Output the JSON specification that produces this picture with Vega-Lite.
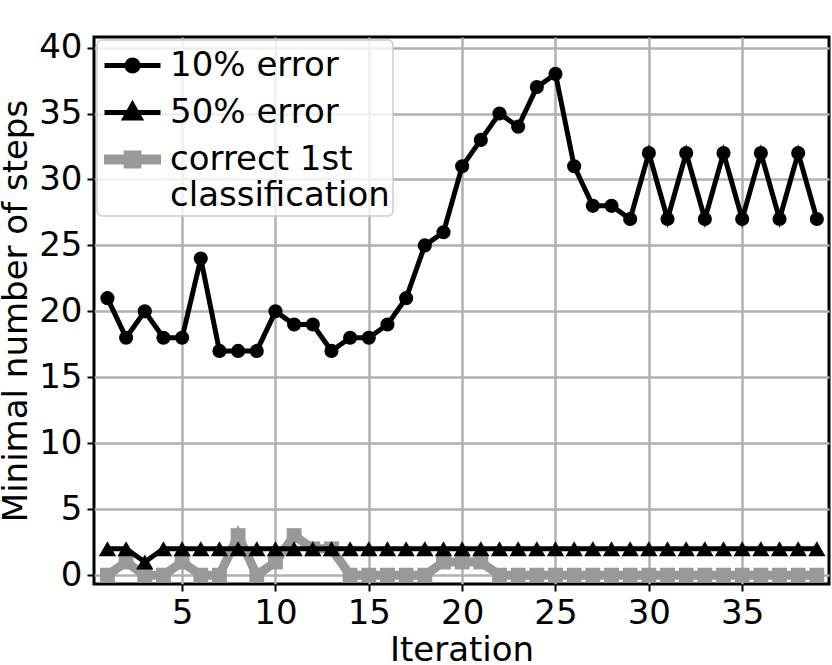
{
  "$schema": "https://vega.github.io/schema/vega-lite/v6.json",
  "width": 735,
  "height": 547,
  "autosize": {"type": "none"},
  "padding": {"left": 94, "top": 37, "right": 3, "bottom": 81},
  "config": {
    "font": "DejaVu Sans",
    "view": {"stroke": "black", "strokeWidth": 3},
    "axis": {
      "domain": false,
      "grid": true,
      "gridColor": "#b0b0b0",
      "gridWidth": 2.5,
      "tickColor": "black",
      "tickWidth": 2,
      "tickSize": 7,
      "labelFont": "DejaVu Sans",
      "labelFontSize": 34,
      "labelColor": "black",
      "titleFont": "DejaVu Sans",
      "titleFontSize": 34,
      "titleFontWeight": "normal",
      "titleColor": "black",
      "labelPadding": 5
    },
    "legend": {
      "orient": "top-left",
      "offset": 3,
      "symbolSize": 1600,
      "symbolStrokeWidth": 5,
      "symbolOpacity": 1,
      "symbolOffset": 10,
      "labelFont": "DejaVu Sans",
      "labelFontSize": 34,
      "labelColor": "black",
      "labelOffset": 15,
      "labelLimit": 500,
      "rowPadding": 7,
      "padding": 3,
      "fillColor": "rgba(255,255,255,0.8)",
      "strokeColor": "#cccccc",
      "strokeWidth": 1.5,
      "cornerRadius": 5
    }
  },
  "data": {
    "values": [
      {"it": 1, "e10": 21, "e50": 2, "c": 0},
      {"it": 2, "e10": 18, "e50": 2, "c": 1},
      {"it": 3, "e10": 20, "e50": 1, "c": 0},
      {"it": 4, "e10": 18, "e50": 2, "c": 0},
      {"it": 5, "e10": 18, "e50": 2, "c": 1},
      {"it": 6, "e10": 24, "e50": 2, "c": 0},
      {"it": 7, "e10": 17, "e50": 2, "c": 0},
      {"it": 8, "e10": 17, "e50": 2, "c": 3},
      {"it": 9, "e10": 17, "e50": 2, "c": 0},
      {"it": 10, "e10": 20, "e50": 2, "c": 1},
      {"it": 11, "e10": 19, "e50": 2, "c": 3},
      {"it": 12, "e10": 19, "e50": 2, "c": 2},
      {"it": 13, "e10": 17, "e50": 2, "c": 2},
      {"it": 14, "e10": 18, "e50": 2, "c": 0},
      {"it": 15, "e10": 18, "e50": 2, "c": 0},
      {"it": 16, "e10": 19, "e50": 2, "c": 0},
      {"it": 17, "e10": 21, "e50": 2, "c": 0},
      {"it": 18, "e10": 25, "e50": 2, "c": 0},
      {"it": 19, "e10": 26, "e50": 2, "c": 1},
      {"it": 20, "e10": 31, "e50": 2, "c": 1},
      {"it": 21, "e10": 33, "e50": 2, "c": 1},
      {"it": 22, "e10": 35, "e50": 2, "c": 0},
      {"it": 23, "e10": 34, "e50": 2, "c": 0},
      {"it": 24, "e10": 37, "e50": 2, "c": 0},
      {"it": 25, "e10": 38, "e50": 2, "c": 0},
      {"it": 26, "e10": 31, "e50": 2, "c": 0},
      {"it": 27, "e10": 28, "e50": 2, "c": 0},
      {"it": 28, "e10": 28, "e50": 2, "c": 0},
      {"it": 29, "e10": 27, "e50": 2, "c": 0},
      {"it": 30, "e10": 32, "e50": 2, "c": 0},
      {"it": 31, "e10": 27, "e50": 2, "c": 0},
      {"it": 32, "e10": 32, "e50": 2, "c": 0},
      {"it": 33, "e10": 27, "e50": 2, "c": 0},
      {"it": 34, "e10": 32, "e50": 2, "c": 0},
      {"it": 35, "e10": 27, "e50": 2, "c": 0},
      {"it": 36, "e10": 32, "e50": 2, "c": 0},
      {"it": 37, "e10": 27, "e50": 2, "c": 0},
      {"it": 38, "e10": 32, "e50": 2, "c": 0},
      {"it": 39, "e10": 27, "e50": 2, "c": 0}
    ]
  },
  "encoding": {
    "x": {
      "field": "it",
      "type": "quantitative",
      "scale": {"domain": [0.28, 39.65], "nice": false, "zero": false},
      "axis": {"values": [5, 10, 15, 20, 25, 30, 35], "title": "Iteration", "titlePadding": 3}
    }
  },
  "layer": [
    {
      "mark": {"type": "line", "color": "#999999", "strokeWidth": 9},
      "encoding": {
        "y": {
          "field": "c",
          "type": "quantitative",
          "scale": {"domain": [-0.67, 40.8], "nice": false, "zero": false},
          "axis": {"values": [0, 5, 10, 15, 20, 25, 30, 35, 40], "title": "Minimal number of steps", "titlePadding": 5}
        }
      }
    },
    {
      "mark": {"type": "point", "shape": "square", "filled": true, "color": "#999999", "opacity": 1, "size": 220},
      "encoding": {"y": {"field": "c", "type": "quantitative"}}
    },
    {
      "mark": {"type": "line", "color": "black", "strokeWidth": 5},
      "encoding": {"y": {"field": "e50", "type": "quantitative"}}
    },
    {
      "mark": {"type": "point", "shape": "triangle-up", "filled": true, "color": "black", "opacity": 1, "size": 300},
      "encoding": {"y": {"field": "e50", "type": "quantitative"}}
    },
    {
      "mark": {"type": "line", "color": "black", "strokeWidth": 5},
      "encoding": {"y": {"field": "e10", "type": "quantitative"}}
    },
    {
      "mark": {"type": "point", "shape": "circle", "filled": true, "color": "black", "opacity": 1, "size": 200},
      "encoding": {"y": {"field": "e10", "type": "quantitative"}}
    },
    {
      "data": {"values": [{"series": "10% error"}, {"series": "50% error"}, {"series": "correct 1st classification"}]},
      "mark": {"type": "point", "filled": true, "opacity": 0},
      "encoding": {
        "x": {"value": 0},
        "shape": {
          "field": "series",
          "type": "nominal",
          "scale": {
            "domain": ["10% error", "50% error", "correct 1st classification"],
            "range": [
              "M-1.4,0H1.4M-0.275,0A0.275,0.275,0,1,1,0.275,0A0.275,0.275,0,1,1,-0.275,0Z",
              "M-1.4,0H1.4M0,-0.38L0.37,0.27L-0.37,0.27Z",
              "M-1.3,-0.12H1.3V0.12H-1.3ZM-0.32,-0.32H0.32V0.32H-0.32Z"
            ]
          },
          "legend": {
            "title": null,
            "labelExpr": "datum.label == 'correct 1st classification' ? ['correct 1st', 'classification'] : datum.label"
          }
        },
        "fill": {
          "field": "series",
          "type": "nominal",
          "scale": {"domain": ["10% error", "50% error", "correct 1st classification"], "range": ["black", "black", "#999999"]},
          "legend": {
            "title": null,
            "labelExpr": "datum.label == 'correct 1st classification' ? ['correct 1st', 'classification'] : datum.label"
          }
        },
        "stroke": {
          "field": "series",
          "type": "nominal",
          "scale": {"domain": ["10% error", "50% error", "correct 1st classification"], "range": ["black", "black", "#999999"]},
          "legend": {
            "title": null,
            "labelExpr": "datum.label == 'correct 1st classification' ? ['correct 1st', 'classification'] : datum.label"
          }
        }
      }
    }
  ]
}
